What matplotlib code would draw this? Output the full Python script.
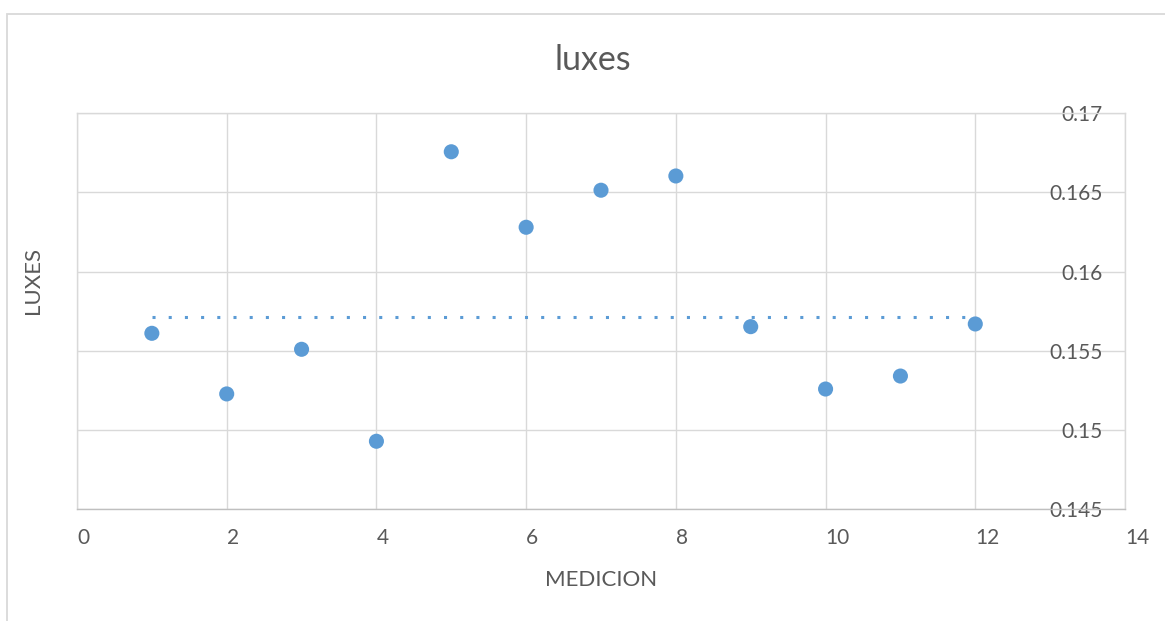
import matplotlib
matplotlib.use("Agg")
import matplotlib.pyplot as plt
from matplotlib.patches import Rectangle
from matplotlib.ticker import FuncFormatter

plt.rcParams['font.family'] = ['Lato', 'DejaVu Sans']

# Measurements and readings
medicion = [1, 2, 3, 4, 5, 6, 7, 8, 9, 10, 11, 12]
luxes = [0.15610, 0.15227, 0.15509, 0.14928, 0.16757, 0.16280,
         0.16514, 0.16604, 0.15652, 0.15258, 0.15340, 0.15669]
nivel_referencia = 0.15715

x_ticks = [0, 2, 4, 6, 8, 10, 12, 14]
y_ticks = [0.145, 0.15, 0.155, 0.16, 0.165, 0.17]

TEXT = '#595959'
GRID = '#D9D9D9'
BLUE = '#5B9BD5'

W, H = 1165, 621
fig = plt.figure(figsize=(W / 100, H / 100), dpi=100)

# chart-area frame (extends past the right and bottom edges)
fig.patches.append(Rectangle((7 / W, -0.1), 1.2, 1 - 14 / H + 0.1,
                             transform=fig.transFigure, fill=False,
                             edgecolor=GRID, linewidth=1.3, zorder=0))

ax = fig.add_axes([77 / W, 112 / H, (1125 - 77) / W, (509 - 113.3) / H])
ax.set_xlim(x_ticks[0], x_ticks[-1])
ax.set_ylim(y_ticks[0], y_ticks[-1])
ax.set_xticks(x_ticks)
ax.set_yticks(y_ticks)
ax.yaxis.set_major_formatter(FuncFormatter(lambda v, p: f'{v:g}'))

ax.grid(True, color=GRID, linewidth=1.0, zorder=0)
ax.set_axisbelow(True)
for side in ['left', 'right', 'top']:
    ax.spines[side].set_color(GRID)
    ax.spines[side].set_linewidth(1.0)
ax.spines['bottom'].set_color('#BFBFBF')
ax.spines['bottom'].set_linewidth(1.0)

# y labels on the right, drawn inside the plot area
ax.yaxis.tick_right()
ax.tick_params(axis='y', length=0, pad=-16, labelsize=15, labelcolor=TEXT)
for lab in ax.get_yticklabels():
    lab.set_horizontalalignment('right')
    lab.set_verticalalignment('center_baseline')
ax.tick_params(axis='x', length=0, pad=14, labelsize=15, labelcolor=TEXT)
for lab in ax.get_xticklabels():
    lab.set_horizontalalignment('left')

# reference level and readings
ax.plot([medicion[0], medicion[-1]], [nivel_referencia, nivel_referencia],
        color=BLUE, linewidth=2.2, dashes=(1, 4.3), dash_capstyle='butt',
        zorder=2, clip_on=False)
ax.scatter(medicion, luxes, s=118, color=BLUE, edgecolors='none', zorder=3)

fig.text(592.5 / W, 1 - 60 / H, 'luxes', ha='center', va='center',
         fontsize=24.5, color=TEXT)
fig.text(601 / W, 1 - 580 / H, 'MEDICION', ha='center', va='center',
         fontsize=16, color=TEXT)
fig.text(33 / W, 1 - 280 / H, 'LUXES', ha='center', va='center',
         rotation=90, fontsize=16, color=TEXT)

fig.savefig('out.png', dpi=100)
